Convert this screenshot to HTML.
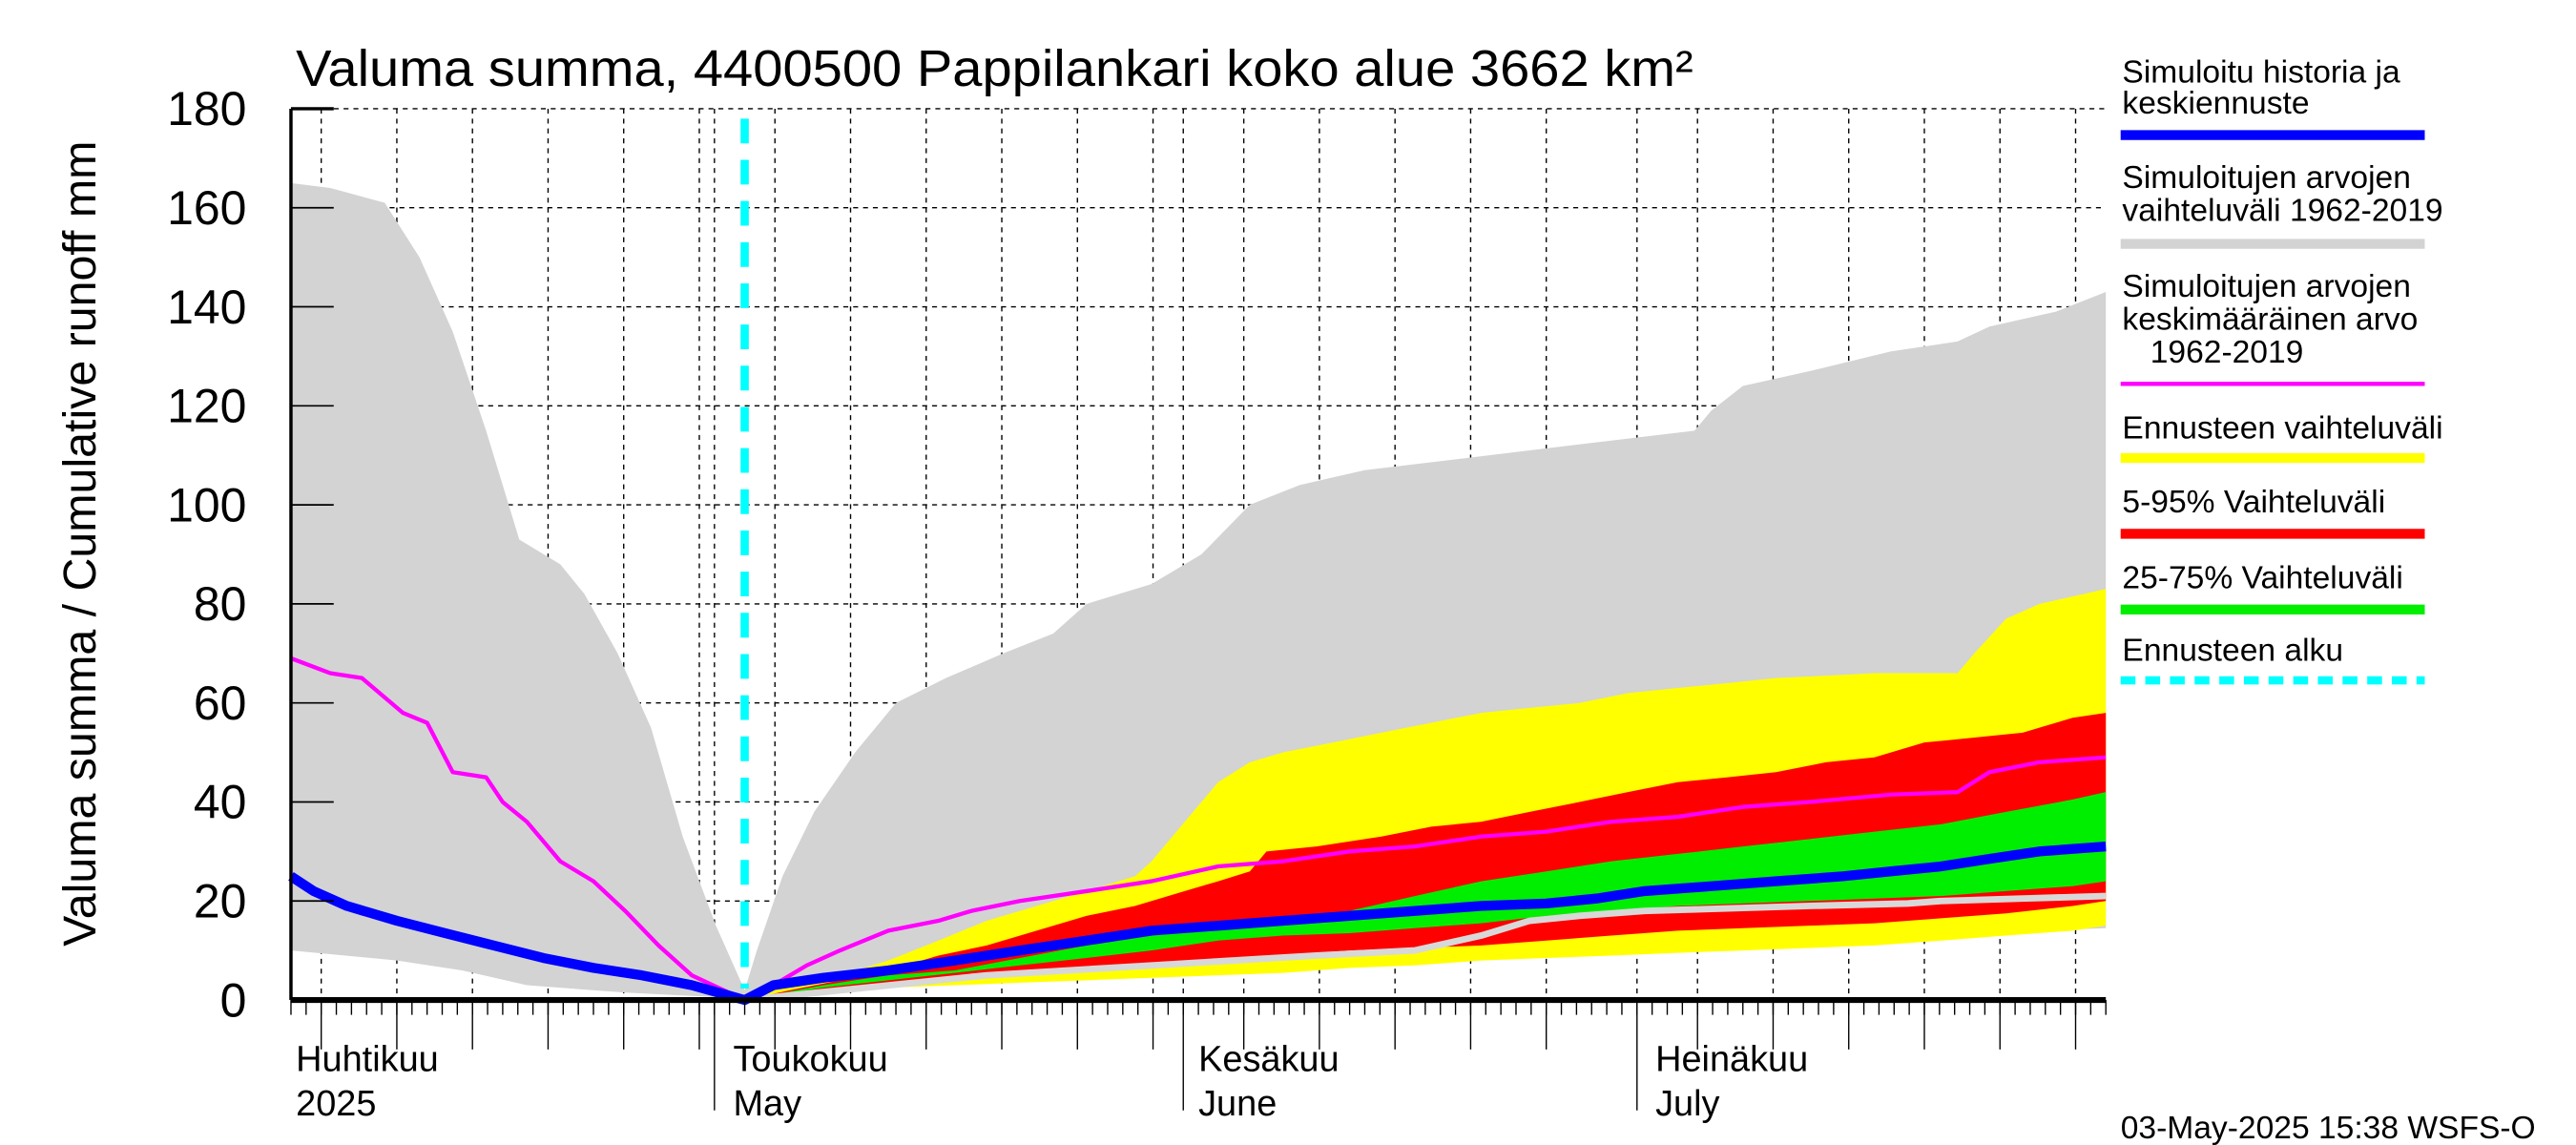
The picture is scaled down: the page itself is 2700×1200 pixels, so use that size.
<!DOCTYPE html>
<html><head><meta charset="utf-8"><style>html,body{margin:0;padding:0;background:#fff}svg{display:block}text{font-family:"Liberation Sans",sans-serif}</style></head>
<body>
<svg id="chart" width="2700" height="1200" viewBox="0 0 1567 695" preserveAspectRatio="none" xmlns="http://www.w3.org/2000/svg">
<g id="grid"></g>
<g id="marks"></g>
<g id="axes"></g>
<text x="180" y="52" font-size="31" textLength="850" lengthAdjust="spacingAndGlyphs">Valuma summa, 4400500 Pappilankari koko alue 3662 km²</text>
<text transform="translate(58,330) rotate(-90)" text-anchor="middle" font-size="28">Valuma summa / Cumulative runoff    mm</text>
<g font-size="19.5">
<text x="1291" y="50">Simuloitu historia ja</text><text x="1291" y="69">keskiennuste</text>
<line x1="1290" y1="82" x2="1475" y2="82" stroke="#0000ff" stroke-width="6"/>
<text x="1291" y="114">Simuloitujen arvojen</text><text x="1291" y="134">vaihteluväli 1962-2019</text>
<line x1="1290" y1="148" x2="1475" y2="148" stroke="#d3d3d3" stroke-width="6"/>
<text x="1291" y="180">Simuloitujen arvojen</text><text x="1291" y="200">keskimääräinen arvo</text><text x="1308" y="220">1962-2019</text>
<line x1="1290" y1="233" x2="1475" y2="233" stroke="#ff00ff" stroke-width="2.5"/>
<text x="1291" y="266">Ennusteen vaihteluväli</text>
<line x1="1290" y1="278" x2="1475" y2="278" stroke="#ffff00" stroke-width="6"/>
<text x="1291" y="311">5-95% Vaihteluväli</text>
<line x1="1290" y1="324" x2="1475" y2="324" stroke="#ff0000" stroke-width="6"/>
<text x="1291" y="357">25-75% Vaihteluväli</text>
<line x1="1290" y1="370" x2="1475" y2="370" stroke="#00ee00" stroke-width="6"/>
<text x="1291" y="401">Ennusteen alku</text>
<line x1="1290" y1="413" x2="1475" y2="413" stroke="#00ffff" stroke-width="5" stroke-dasharray="9,6"/>
</g>
<g font-size="22">
<text x="180" y="650">Huhtikuu</text><text x="180" y="677">2025</text>
<text x="446" y="650">Toukokuu</text><text x="446" y="677">May</text>
<text x="729" y="650">Kesäkuu</text><text x="729" y="677">June</text>
<text x="1007" y="650">Heinäkuu</text><text x="1007" y="677">July</text>
</g>
<text x="1290" y="691" font-size="19.5">03-May-2025 15:38 WSFS-O</text>
</svg>
<script>
// days relative to 1 May 2025 (day 0)
const histDays=[-28,-25.4,-21.8,-19.5,-17.3,-15.1,-12.9,-10.2,-8.6,-6.4,-4.2,-2.1,0.1,2];
const greyUpHist=[165,164,161,150,135,115,93,88,82,70,55,33,15,2];
const greyLoHistDays=[-28,-21,-16.7,-12.4,-5.9,0.7,2];
const greyLoHist=[10,8,6,3,1.5,0.5,0];
const fcDays=[2,2.8,4.5,6.6,9.3,12,15.3,19.1,22.4,24.6,28.9,32.2,35.4,38.7,43,48.5,53.9,59.3,64.8,65.9,68,72.4,77.8,82.2,84.3,88.7,92];
const greyUpFc=[2,10,25,38,50,60,65,70,74,80,84,90,100,104,107,109,111,113,115,119,124,127,131,133,136,139,143];
const greyLoDays=[2,7.2,12.6,18,23.5,28.9,34.3,39.8,45.2,50.7,61.5,72.4,83.3,92];
const greyLo=[0,2,4,5,6,7,8,9,10,10.5,11.5,12.5,13.5,14.5];
const yelUpDays=[2,5,8.3,11.5,14.8,18,21.3,24.6,27.8,28.9,31.1,33.3,35.4,37.6,40.9,44.1,47.4,50.7,53.9,57.2,60.4,63.7,67,70.2,73.5,76.7,80,82.2,83.3,85.4,87.6,92];
const yelUp=[0,3,5,8,12,16,19,22,25,28,36,44,48,50,52,54,56,58,59,60,62,63,64,65,65.5,66,66,66,70,77,80,83];
const redUpDays=[2,5,8.3,11.5,14.8,18,21.3,24.6,27.8,31.1,33.3,35.4,36.5,39.8,44.1,47.4,50.7,53.9,57.2,60.4,63.7,67,70.2,73.5,76.7,80,83.3,86.5,89.8,92];
const redUp=[0,2,4,6,9,11,14,17,19,22,24,26,30,31,33,35,36,38,40,42,44,45,46,48,49,52,53,54,57,58];
const lowDays=[2,7.2,11.5,15.9,20.2,24.6,28.9,33.3,37.6,42,46.3,50.7,55,59.3,63.7,68,72.4,76.7,81.1,85.4,89.8,92];
const greenUp=[0,3,5,6,8.5,11,13,14.5,16,18,21,24,26,28,29.5,31,32.5,34,35.5,38,40.5,42];
const greenLo=[0,2.5,4,5.5,7,8.5,10,12,13,13.5,14.5,15.5,17,18,19,19.5,20,20.5,21,22,23,24];
const redLo=[0,2,3,4,5,6,7,8,9,10,10.5,11,12,13,14,14.5,15,15.5,16.5,17.5,19,20];
const yelLo=[0,1.5,2.5,3,3.5,4,4.5,5,5.5,6.5,7,8,8.5,9,9.5,10,10.5,11,12,13,14,15];
const meanDays=[-28,-25.4,-23.3,-20.6,-19,-17.3,-15.1,-14,-12.4,-10.2,-8,-5.9,-3.7,-1.5,2,3.9,6.1,8.3,11.5,14.8,17,20.2,24.6,28.9,33.3,37.6,42,46.3,50.7,55,59.3,63.7,68,72.4,77.8,82.2,84.3,87.6,92];
const meanVals=[69,66,65,58,56,46,45,40,36,28,24,18,11,5,0,3,7,10,14,16,18,20,22,24,27,28,30,31,33,34,36,37,39,40,41.5,42,46,48,49];
const blueDays=[-28,-26.5,-24.3,-21,-17.8,-14.6,-11.3,-8,-4.8,-1.5,2,3.9,7.2,11.5,15.9,20.2,24.6,28.9,33.3,37.6,42,46.3,50.7,55,58.3,61.5,65.9,70.2,74.6,77.8,81.1,84.3,87.6,92];
const blueVals=[25,22,19,16,13.5,11,8.5,6.5,5,3,0,3,4.5,6,8,10,12,14,15,16,17,18,19,19.5,20.5,22,23,24,25,26,27,28.5,30,31];
const medDays=[2,18,28.9,39.8,46.3,50.7,53.9,57.2,61.5,67,72.4,78.9,81.1,86.5,92];
const medVals=[0,5,7,9,10,13,16,17,18,18.5,19,19.5,20,20.5,21];
const yTicks=[0,20,40,60,80,100,120,140,160,180];
const forecastStart=2;

const X0=177,X1=1281,Y0=607,Y1=66,D0=-28,D1=92;
const xs=d=>X0+(d-D0)*(X1-X0)/(D1-D0);
const ys=v=>Y0-v*(Y0-Y1)/180;
const NS='http://www.w3.org/2000/svg';
function mk(tag,attrs,parent){const e=document.createElementNS(NS,tag);for(const k in attrs)e.setAttribute(k,attrs[k]);parent.appendChild(e);return e;}
const grid=document.getElementById('grid'),marks=document.getElementById('marks'),axes=document.getElementById('axes');
function pts(d,v){return d.map((x,i)=>xs(x).toFixed(1)+','+ys(v[i]).toFixed(1));}
function band(dU,vU,dL,vL,color,name){
  const p=pts(dU,vU).concat(pts(dL,vL).reverse());
  const e=mk('polygon',{points:p.join(' '),fill:color},marks);
  
  
}
function line(d,v,color,w,name){
  const e=mk('polyline',{points:pts(d,v).join(' '),fill:'none',stroke:color,'stroke-width':w,'stroke-linejoin':'round'},marks);
  
  
}
band(histDays.concat(fcDays.slice(1)),greyUpHist.concat(greyUpFc.slice(1)),greyLoHistDays.concat(greyLoDays.slice(1)),greyLoHist.concat(greyLo.slice(1)),'#d3d3d3','history-range-band');
band(yelUpDays,yelUp,lowDays,yelLo,'#ffff00','forecast-range-band');
band(redUpDays,redUp,lowDays,redLo,'#ff0000','forecast-5-95-band');
band(lowDays,greenUp,lowDays,greenLo,'#00ee00','forecast-25-75-band');
line(medDays,medVals,'#d8d8d8',4,'simulated-median-line');
line(meanDays,meanVals,'#ff00ff',2.5,'mean-line');
line(blueDays,blueVals,'#0000ff',6,'simulated-forecast-line');
const months=[{d:-30,len:31},{d:0,len:31},{d:31,len:30},{d:61,len:31}];
const gridDays=[];
months.forEach(m=>{[0,5,10,15,20,25,30].forEach(k=>{if(k<m.len||k===0){const d=m.d+(k===0?0:k-1);if(d>=D0&&d<=D1)gridDays.push({d,major:k===0});}});});
gridDays.forEach(g=>{
  const e=mk('line',{x1:xs(g.d),x2:xs(g.d),y1:Y1,y2:Y0,stroke:'#000','stroke-width':0.8,'stroke-dasharray':'3,3'},grid);
  
  
  const t=mk('line',{x1:xs(g.d),x2:xs(g.d),y1:Y0,y2:Y0+(g.major?67:30),stroke:'#000','stroke-width':0.8},axes);
  
  
});
for(let d=D0;d<=D1;d++){
  const t=mk('line',{x1:xs(d),x2:xs(d),y1:Y0,y2:Y0+9,stroke:'#000','stroke-width':0.8},axes);
  
  
}
yTicks.forEach(v=>{
  if(v>0&&v<180){const e=mk('line',{x1:X0,x2:X1,y1:ys(v),y2:ys(v),stroke:'#000','stroke-width':0.8,'stroke-dasharray':'3,3'},grid);
  
  }
  if(v===180){const e=mk('line',{x1:203,x2:X1,y1:ys(v),y2:ys(v),stroke:'#000','stroke-width':0.8,'stroke-dasharray':'3,3'},grid);
  
  }
  const t=mk('line',{x1:X0,x2:X0+26,y1:ys(v),y2:ys(v),stroke:'#000','stroke-width':v===180?2:1},axes);
  
  
  const l=mk('text',{x:150,y:ys(v)+10,'text-anchor':'end','font-size':29},axes);
  l.textContent=v;
  
  
});
const c=mk('line',{x1:xs(forecastStart),x2:xs(forecastStart),y1:72,y2:600,stroke:'#00ffff','stroke-width':5,'stroke-dasharray':'15,10'},marks);


const ax=mk('line',{x1:X0,x2:X0,y1:Y1,y2:Y0,stroke:'#000','stroke-width':2},axes);


const bx=mk('line',{x1:X0,x2:X1,y1:Y0,y2:Y0,stroke:'#000','stroke-width':3.5},axes);


</script>
</body></html>
